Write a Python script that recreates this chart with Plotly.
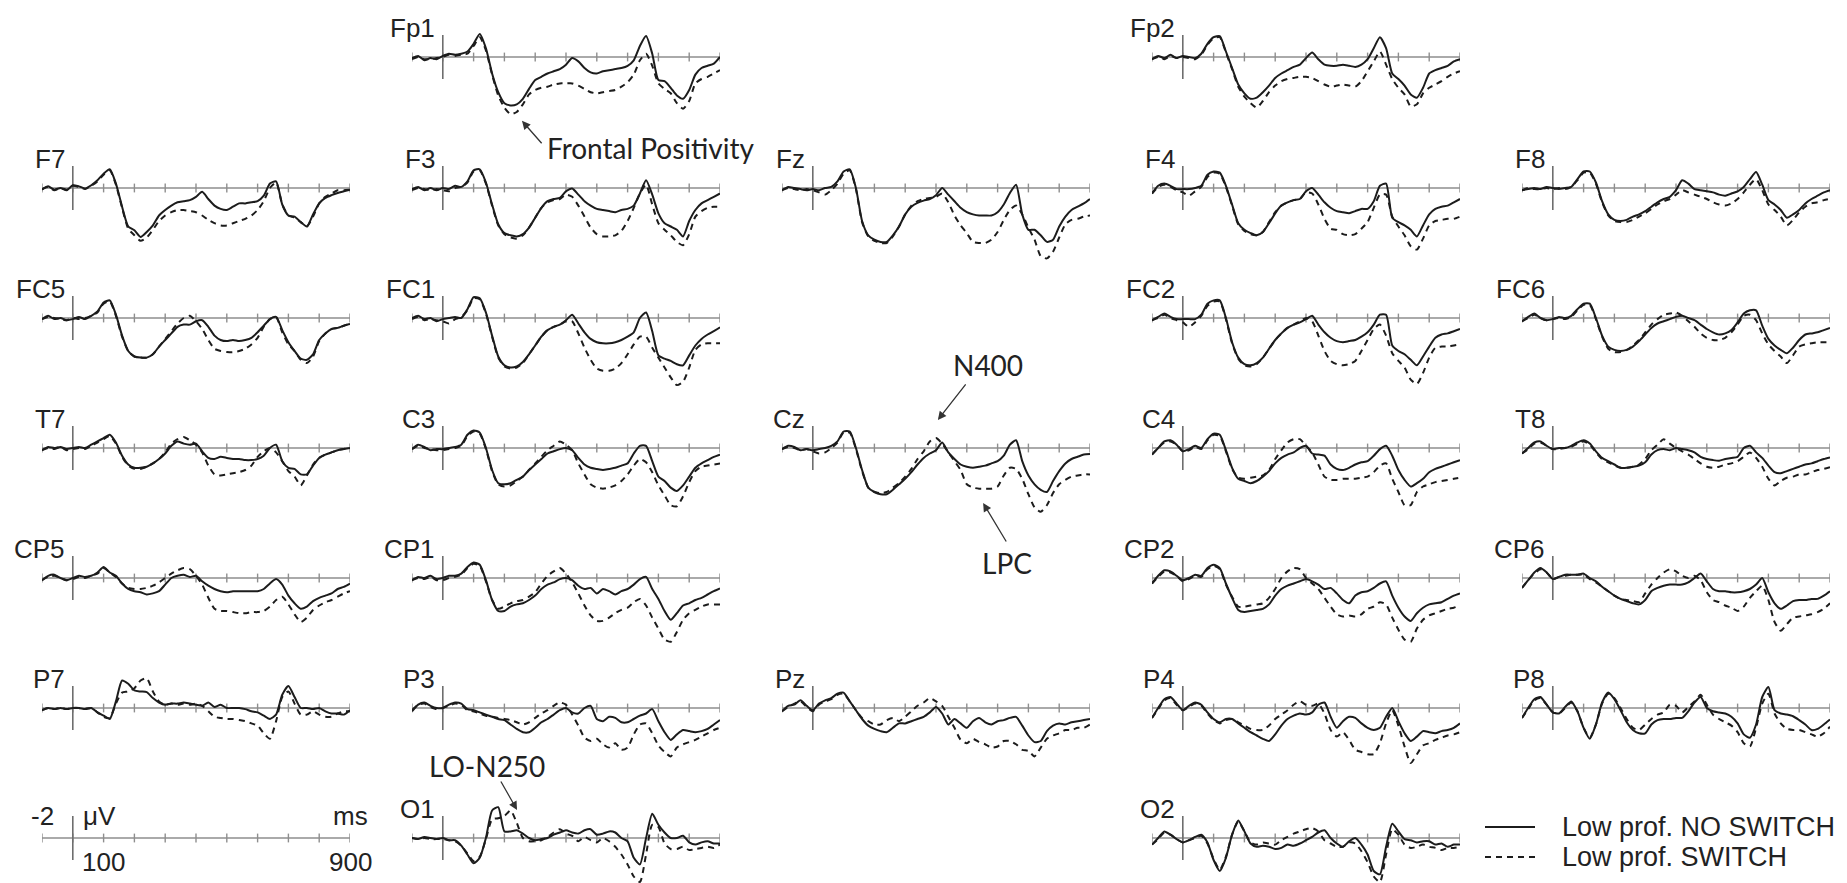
import plotly.graph_objects as go

# ---------------------------------------------------------------------------
# Grand-average ERP waveforms (µV, negative plotted upward), -100 .. 900 ms
# ---------------------------------------------------------------------------
TIMES = list(range(-100, 901, 20))
TICK_TIMES = list(range(-100, 901, 100))

FP1_NO_SWITCH = [0.1, -0.1, 0.3, 0.1, 0.2, -0.1, -0.3, -0.2, -0.3, -0.5,
                 -1.2, -2.1, -0.8, 1.5, 3.2, 4.2, 4.4, 4.3, 3.8, 2.9,
                 2.1, 1.8, 1.5, 1.3, 1.1, 0.7, 0.1, 0.4, 1.0, 1.4,
                 1.5, 1.3, 1.2, 1.1, 1.0, 0.8, 0.3, -1.0, -1.9, -0.3,
                 2.1, 2.2, 2.8, 3.5, 3.8, 3.0, 1.6, 1.0, 0.8, 0.6, 0.0]
FP1_SWITCH = [0.2, 0.0, 0.2, 0.2, 0.1, 0.0, -0.2, -0.1, -0.2, -0.3,
              -1.0, -1.8, -0.6, 1.6, 3.5, 4.6, 5.2, 5.0, 4.3, 3.4,
              3.0, 2.8, 2.7, 2.5, 2.4, 2.4, 2.4, 2.6, 2.9, 3.2,
              3.3, 3.2, 3.1, 3.0, 2.7, 2.3, 1.6, 0.3, -0.3, 0.8,
              2.4, 2.9, 3.3, 4.2, 4.7, 4.0, 2.4, 2.0, 1.8, 1.5, 1.2]

FP2_NO_SWITCH = [0.2, -0.1, 0.1, -0.2, 0.1, -0.1, 0.0, 0.1, -0.3, -1.2,
                 -1.8, -1.9, -0.5, 1.0, 2.5, 3.3, 3.8, 3.7, 3.2, 2.6,
                 1.9, 1.5, 1.2, 0.9, 0.7, 0.1, -0.4, 0.2, 0.7, 0.8,
                 0.8, 0.7, 0.8, 0.9, 0.7, 0.2, -0.8, -1.8, -0.8, 1.5,
                 2.0, 2.6, 3.4, 3.7, 2.8, 1.5, 1.2, 1.0, 0.8, 0.4, 0.2]
FP2_SWITCH = [0.2, 0.0, 0.2, -0.1, 0.1, 0.0, 0.1, 0.2, -0.2, -1.1,
              -1.7, -1.8, -0.4, 1.1, 2.7, 3.6, 4.2, 4.6, 4.0, 3.2,
              2.6, 2.2, 2.0, 1.9, 1.8, 1.8, 1.9, 2.2, 2.5, 2.7,
              2.6, 2.5, 2.6, 2.7, 2.2, 1.3, 0.4, -0.5, 0.7, 2.0,
              2.8, 3.4, 4.5, 4.3, 3.3, 2.8, 2.5, 2.2, 1.8, 1.5, 1.3]

F7_NO_SWITCH = [0.15, -0.15, 0.15, 0.0, 0.2, -0.25, -0.15, 0.05, -0.25, -0.7,
                -1.3, -1.7, -0.4, 1.7, 3.5, 3.85, 4.45, 4.0, 3.4, 2.5,
                2.0, 1.6, 1.3, 1.2, 1.1, 0.8, 0.35, 1.0, 1.6, 1.9,
                2.0, 1.7, 1.4, 1.4, 1.3, 1.2, 0.7, -0.4, -0.6, 1.5,
                2.5, 2.6, 3.1, 3.5, 2.4, 1.4, 0.9, 0.65, 0.45, 0.3, 0.15]
F7_SWITCH = [0.1, -0.1, 0.2, 0.0, 0.15, -0.2, -0.1, 0.1, -0.2, -0.6,
             -1.2, -1.6, -0.3, 1.8, 3.7, 4.3, 4.8, 4.5, 3.8, 3.0,
             2.5, 2.2, 2.0, 2.0, 2.1, 2.2, 2.5, 2.9, 3.2, 3.4,
             3.4, 3.2, 3.0, 2.8, 2.5, 2.0, 1.2, 0.0, -0.5, 1.5,
             2.5, 2.7, 3.1, 3.5, 2.6, 1.4, 0.8, 0.5, 0.2, 0.2, 0.15]

F3_NO_SWITCH = [0.1, -0.1, 0.2, 0.0, 0.2, 0.0, 0.1, -0.2, -0.1, -0.6,
                -1.6, -1.7, -0.5, 1.5, 3.3, 4.1, 4.3, 4.4, 4.2, 3.6,
                2.7, 1.8, 1.2, 1.0, 0.9, 0.3, 0.05, 0.6, 1.2, 1.6,
                1.9, 2.0, 2.1, 2.2, 2.0, 1.9, 1.6, 0.5, -0.7, 0.6,
                2.3, 3.2, 3.5, 3.8, 4.4, 3.0, 2.0, 1.4, 1.1, 0.8, 0.5]
F3_SWITCH = [0.2, 0.0, 0.1, 0.2, 0.1, 0.2, 0.3, 0.0, -0.1, -0.5,
             -1.5, -1.6, -0.4, 1.6, 3.4, 4.2, 4.5, 4.6, 4.3, 3.6,
             2.7, 1.8, 1.3, 1.1, 1.0, 0.6, 0.8, 1.6, 2.6, 3.6,
             4.2, 4.4, 4.4, 4.3, 3.9, 3.0, 1.8, 0.5, -0.3, 1.5,
             3.2, 3.8, 4.3, 4.9, 5.2, 4.2, 2.6, 2.1, 1.8, 1.7, 1.7]

FZ_NO_SWITCH = [0.2, -0.1, 0.0, 0.1, 0.2, 0.1, 0.2, 0.0, -0.1, -0.6,
                -1.5, -1.7, 0.0, 3.0, 4.3, 4.7, 4.9, 4.9, 4.3, 3.5,
                2.4, 1.7, 1.35, 1.15, 1.0, 0.65, 0.0, 0.6, 1.2, 1.8,
                2.2, 2.4, 2.5, 2.5, 2.5, 2.2, 1.5, 0.45, -0.3, 2.4,
                3.8, 3.8, 4.3, 4.9, 4.7, 3.5, 2.6, 2.0, 1.7, 1.4, 1.0]
FZ_SWITCH = [0.2, 0.0, 0.1, 0.2, 0.1, 0.2, 0.4, 0.6, 0.2, -0.4,
             -1.3, -1.6, 0.1, 3.1, 4.4, 4.8, 5.0, 5.0, 4.4, 3.5,
             2.4, 1.6, 1.2, 1.0, 0.9, 0.8, 0.5, 1.3, 2.5, 3.4,
             4.1, 4.9, 5.0, 5.0, 4.7, 4.0, 2.9, 2.0, 1.6, 2.4,
             3.6, 4.7, 6.2, 6.4, 5.8, 4.5, 3.3, 2.9, 2.8, 2.6, 2.5]

F4_NO_SWITCH = [0.5, -0.2, -0.4, -0.2, 0.1, 0.1, 0.1, 0.0, -0.2, -1.2,
                -1.5, -1.4, -0.2, 1.5, 3.2, 3.8, 4.1, 4.3, 4.0, 3.2,
                2.3, 1.6, 1.3, 1.1, 1.0, 0.3, 0.0, 0.6, 1.3, 1.8,
                2.1, 2.2, 2.3, 2.1, 1.9, 1.9, 1.2, -0.2, -0.4, 2.7,
                3.1, 3.4, 3.8, 4.4, 3.4, 2.4, 1.9, 1.7, 1.6, 1.3, 1.0]
F4_SWITCH = [0.5, -0.1, -0.3, -0.1, 0.2, 0.4, 0.7, 0.3, -0.1, -1.0,
             -1.4, -1.3, -0.1, 1.6, 3.3, 3.9, 4.2, 4.3, 4.0, 3.1,
             2.2, 1.6, 1.3, 1.1, 1.0, 0.4, 0.5, 1.5, 2.8, 3.7,
             3.8, 4.2, 4.3, 4.2, 3.7, 3.1, 1.8, 0.6, 0.6, 2.6,
             3.5, 4.3, 5.3, 5.6, 4.6, 3.4, 3.0, 2.9, 2.8, 2.8, 2.6]

F8_NO_SWITCH = [0.2, 0.1, 0.0, 0.1, -0.1, 0.0, 0.1, 0.0, -0.1, -0.8,
                -1.5, -1.5, -0.5, 1.2, 2.4, 2.9, 3.0, 2.9, 2.6, 2.4,
                2.1, 1.7, 1.3, 1.0, 0.8, 0.2, -0.7, -0.4, 0.1, 0.2,
                0.3, 0.4, 0.6, 0.7, 0.5, 0.3, -0.1, -0.8, -1.45, -0.3,
                1.1, 1.5, 2.0, 2.7, 2.4, 2.0, 1.4, 1.0, 0.7, 0.4, 0.2]
F8_SWITCH = [0.2, 0.0, 0.1, 0.1, 0.0, 0.1, 0.0, 0.1, -0.1, -0.7,
             -1.4, -1.4, -0.4, 1.3, 2.5, 3.0, 3.1, 3.1, 2.9, 2.6,
             2.3, 1.9, 1.5, 1.2, 1.0, 0.6, 0.2, 0.4, 0.6, 0.8,
             1.0, 1.3, 1.5, 1.6, 1.4, 1.0, 0.4, -0.3, -0.8, 0.2,
             1.5, 2.0, 2.6, 3.4, 2.9, 2.2, 1.7, 1.4, 1.3, 1.1, 1.0]

FC5_NO_SWITCH = [0.1, -0.2, 0.1, 0.0, 0.2, 0.1, -0.1, 0.1, -0.2, -0.6,
                 -1.4, -1.6, -0.3, 1.6, 3.0, 3.5, 3.6, 3.6, 3.3, 2.6,
                 2.0, 1.4, 0.8, 0.6, 0.6, 0.3, 0.2, 0.8, 1.6, 2.0,
                 2.1, 2.0, 2.1, 2.0, 1.8, 1.3, 0.7, 0.1, -0.1, 1.1,
                 2.2, 3.0, 3.7, 3.8, 3.3, 2.0, 1.4, 1.0, 0.9, 0.7, 0.55]
FC5_SWITCH = [0.1, -0.1, 0.0, 0.1, 0.2, 0.0, 0.1, 0.0, -0.2, -0.5,
              -1.3, -1.5, -0.2, 1.7, 3.0, 3.5, 3.6, 3.6, 3.3, 2.6,
              1.9, 1.2, 0.5, 0.0, -0.2, 0.3, 1.0, 2.0, 2.8, 3.0,
              3.1, 3.1, 3.0, 2.8, 2.4, 1.8, 0.8, 0.1, -0.1, 1.3,
              2.4, 3.0, 3.8, 4.1, 3.5, 2.1, 1.4, 1.0, 0.9, 0.7, 0.55]

FC1_NO_SWITCH = [0.0, -0.2, 0.1, 0.0, 0.3, 0.1, 0.0, -0.1, 0.0, -0.8,
                 -1.9, -1.8, -0.5, 1.6, 3.5, 4.3, 4.5, 4.4, 4.0, 3.3,
                 2.5, 1.7, 1.1, 0.8, 0.6, 0.2, -0.3, 0.5, 1.3, 1.9,
                 2.2, 2.3, 2.3, 2.2, 2.0, 1.7, 1.3, 0.0, -0.5, 1.2,
                 3.4, 3.7, 3.9, 4.2, 4.3, 3.4, 2.5, 1.9, 1.5, 1.2, 0.85]
FC1_SWITCH = [0.1, -0.1, 0.2, 0.1, 0.2, 0.3, 0.5, 0.1, -0.1, -0.7,
              -1.8, -1.7, -0.4, 1.7, 3.6, 4.4, 4.6, 4.5, 4.1, 3.3,
              2.5, 1.7, 1.1, 0.8, 0.6, 0.3, 0.3, 1.4, 2.7, 3.8,
              4.6, 4.8, 4.8, 4.6, 4.1, 3.3, 2.4, 1.7, 1.7, 2.7,
              3.6, 4.5, 5.4, 6.1, 5.8, 4.5, 2.9, 2.4, 2.3, 2.3, 2.3]

FC2_NO_SWITCH = [0.2, -0.1, -0.4, -0.1, 0.1, 0.1, 0.1, 0.1, -0.3, -1.3,
                 -1.6, -1.6, 0.0, 2.2, 3.6, 4.2, 4.3, 4.1, 3.6, 2.8,
                 2.0, 1.4, 0.9, 0.6, 0.4, 0.1, -0.2, 0.6, 1.3, 1.8,
                 2.1, 2.2, 2.1, 2.0, 1.7, 1.3, 0.6, -0.3, -0.3, 2.5,
                 3.0, 3.3, 3.8, 4.3, 3.5, 2.6, 1.8, 1.5, 1.4, 1.2, 1.0]
FC2_SWITCH = [0.2, 0.0, -0.3, 0.0, 0.2, 0.4, 0.8, 0.4, -0.2, -1.1,
              -1.5, -1.5, 0.1, 2.3, 3.7, 4.3, 4.4, 4.2, 3.6, 2.8,
              2.0, 1.4, 0.9, 0.6, 0.3, 0.0, 0.3, 1.6, 3.0, 3.9,
              4.2, 4.3, 4.2, 3.9, 3.0, 2.0, 1.0, 0.6, 1.6, 3.2,
              3.9, 4.5, 5.6, 6.0, 5.0, 3.6, 2.7, 2.6, 2.6, 2.5, 2.4]

FC6_NO_SWITCH = [0.3, -0.1, -0.4, 0.0, 0.2, 0.1, -0.1, 0.0, -0.2, -0.8,
                 -1.3, -1.3, 0.0, 1.6, 2.6, 2.9, 3.0, 2.9, 2.6, 2.1,
                 1.5, 0.9, 0.5, 0.3, 0.1, -0.1, -0.2, 0.0, 0.2, 0.6,
                 1.0, 1.3, 1.5, 1.4, 1.1, 0.4, -0.4, -0.7, -0.7, 0.7,
                 1.9, 2.5, 2.9, 3.2, 2.7, 2.0, 1.5, 1.4, 1.3, 1.1, 0.9]
FC6_SWITCH = [0.3, 0.0, -0.3, 0.0, 0.2, 0.1, 0.0, 0.1, -0.1, -0.7,
              -1.2, -1.2, 0.1, 1.7, 2.8, 3.1, 3.1, 2.9, 2.5, 2.0,
              1.3, 0.6, 0.1, -0.3, -0.4, -0.5, -0.2, 0.3, 0.8, 1.4,
              1.8, 2.0, 2.0, 1.8, 1.3, 0.6, -0.2, -0.3, 0.2, 1.4,
              2.4, 3.0, 3.5, 4.1, 3.4, 2.6, 2.4, 2.3, 2.2, 2.2, 2.2]

T7_NO_SWITCH = [0.2, -0.1, 0.0, -0.1, 0.1, 0.0, -0.1, 0.0, -0.3, -0.6,
                -0.9, -1.2, -0.5, 0.7, 1.5, 1.8, 1.8, 1.7, 1.4, 1.0,
                0.5, -0.2, -0.6, -0.4, -0.3, -0.4, 0.3, 0.9, 1.0, 0.8,
                0.9, 1.0, 1.0, 1.1, 1.1, 1.0, 0.7, 0.0, -0.3, 1.2,
                1.8, 1.9, 2.4, 2.4, 1.6, 0.9, 0.6, 0.4, 0.2, 0.1, 0.0]
T7_SWITCH = [0.2, 0.0, 0.1, -0.1, 0.2, 0.1, 0.0, 0.1, -0.2, -0.5,
             -0.8, -1.1, -0.4, 0.8, 1.6, 1.9, 1.9, 1.7, 1.4, 1.0,
             0.4, -0.4, -0.8, -1.0, -0.7, -0.3, 0.4, 1.6, 2.4, 2.5,
             2.4, 2.3, 2.2, 2.0, 1.6, 0.8, 0.3, 0.0, 0.4, 1.2,
             2.1, 2.6, 3.4, 2.5, 1.5, 0.9, 0.6, 0.4, 0.2, 0.1, 0.0]

C3_NO_SWITCH = [0.1, -0.3, -0.1, 0.2, 0.1, 0.1, 0.0, -0.1, -0.3, -1.2,
                -1.6, -1.4, 0.0, 2.0, 3.2, 3.3, 3.2, 2.9, 2.6, 2.0,
                1.5, 1.0, 0.5, 0.3, 0.1, 0.0, 0.2, 0.9, 1.5, 1.8,
                1.9, 2.0, 1.9, 1.8, 1.6, 1.4, 0.5, -0.2, -0.2, 1.2,
                2.6, 3.0, 3.6, 3.9, 3.4, 2.6, 1.8, 1.4, 1.1, 0.8, 0.6]
C3_SWITCH = [0.1, -0.2, 0.0, 0.1, 0.2, 0.2, 0.1, 0.0, -0.2, -1.1,
             -1.5, -1.3, 0.1, 2.1, 3.3, 3.5, 3.4, 3.0, 2.6, 2.0,
             1.4, 0.8, 0.2, -0.2, -0.6, -0.3, 0.2, 1.4, 2.4, 3.3,
             3.6, 3.7, 3.6, 3.4, 3.0, 2.4, 1.6, 1.0, 1.3, 2.2,
             3.4, 4.3, 5.2, 5.3, 4.4, 3.1, 2.1, 1.7, 1.6, 1.5, 1.4]

CZ_NO_SWITCH = [0.1, -0.2, -0.1, 0.2, 0.1, 0.2, 0.1, 0.0, -0.2, -0.6,
                -1.5, -1.5, 0.0, 2.0, 3.6, 4.0, 4.2, 4.2, 3.8, 3.3,
                2.8, 2.2, 1.5, 0.9, 0.5, 0.2, -0.5, 0.4, 1.0, 1.5,
                1.7, 1.8, 1.7, 1.6, 1.4, 1.2, 0.7, -0.3, -0.7, 1.2,
                2.5, 3.3, 3.8, 4.0, 3.0, 2.1, 1.4, 1.0, 0.8, 0.6, 0.55]
CZ_SWITCH = [0.1, -0.1, 0.0, 0.2, 0.1, 0.3, 0.5, 0.4, 0.0, -0.5,
             -1.4, -1.4, 0.1, 2.1, 3.6, 4.0, 4.1, 4.0, 3.6, 3.2,
             2.6, 1.9, 1.0, 0.3, -0.6, -0.9, -0.4, 0.4, 1.2, 2.0,
             3.3, 3.6, 3.7, 3.7, 3.7, 3.5, 2.5, 1.8, 1.9, 2.8,
             4.2, 5.4, 5.8, 5.2, 4.1, 3.3, 2.9, 2.6, 2.5, 2.4, 2.4]

C4_NO_SWITCH = [0.6, 0.0, -0.6, -0.7, -0.3, 0.3, 0.1, -0.2, 0.0, -0.8,
                -1.3, -1.2, 0.2, 1.8, 2.8, 3.0, 3.2, 3.0, 2.6, 2.1,
                1.4, 0.9, 0.6, 0.4, 0.0, -0.2, 0.5, 0.6, 0.7, 1.5,
                1.9, 2.0, 1.8, 1.5, 1.3, 1.2, 0.7, 0.1, -0.2, 0.7,
                2.0, 2.9, 3.5, 3.2, 2.8, 2.2, 1.9, 1.7, 1.5, 1.3, 1.1]
C4_SWITCH = [0.6, 0.0, -0.5, -0.6, -0.3, 0.3, 0.2, -0.1, 0.1, -0.7,
             -1.2, -1.1, 0.3, 1.9, 2.7, 2.8, 2.7, 2.6, 2.5, 2.0,
             1.0, 0.2, -0.5, -0.8, -0.8, -0.2, 0.4, 1.5, 2.6, 2.9,
             2.9, 2.8, 2.8, 2.8, 2.7, 2.6, 2.2, 1.6, 1.4, 2.8,
             4.0, 5.2, 5.2, 4.0, 3.5, 3.3, 3.1, 3.0, 2.9, 2.8, 2.7]

T8_NO_SWITCH = [0.5, 0.0, -0.5, -0.6, -0.2, 0.1, 0.0, 0.0, -0.2, -0.5,
                -0.7, -0.4, 0.3, 0.9, 1.2, 1.5, 1.8, 1.8, 1.7, 1.6,
                1.3, 0.6, 0.2, 0.1, 0.2, 0.0, 0.1, 0.2, 0.4, 0.8,
                1.0, 1.1, 1.15, 1.0, 0.9, 0.8, 0.0, -0.2, 0.4, 0.9,
                1.6, 2.2, 2.3, 2.1, 1.9, 1.7, 1.5, 1.4, 1.2, 1.0, 0.85]
T8_SWITCH = [0.5, 0.1, -0.4, -0.5, -0.2, 0.1, 0.1, 0.0, -0.1, -0.4,
             -0.6, -0.3, 0.4, 1.0, 1.3, 1.6, 1.8, 1.8, 1.7, 1.5,
             1.0, 0.2, -0.3, -0.8, -0.4, 0.0, 0.3, 0.6, 1.0, 1.4,
             1.7, 1.8, 1.7, 1.5, 1.4, 1.2, 0.8, 0.4, 0.9, 1.7,
             2.8, 3.4, 3.0, 2.7, 2.6, 2.4, 2.4, 2.2, 2.0, 1.9, 1.75]

CP5_NO_SWITCH = [0.2, -0.2, -0.3, 0.0, 0.2, 0.0, -0.2, -0.1, -0.2, -0.5,
                 -1.0, -0.5, -0.2, 0.5, 1.0, 1.2, 1.3, 1.5, 1.4, 1.2,
                 0.6, 0.0, -0.2, -0.3, -0.1, -0.2, 0.3, 0.7, 1.0, 1.2,
                 1.3, 1.2, 1.2, 1.2, 1.2, 1.2, 1.0, 0.5, 0.1, 0.6,
                 1.6, 2.3, 2.8, 2.6, 2.1, 1.8, 1.6, 1.4, 1.0, 0.8, 0.5]
CP5_SWITCH = [0.2, -0.1, -0.2, 0.0, 0.2, 0.1, -0.1, 0.0, -0.2, -0.4,
              -0.9, -0.5, -0.1, 0.5, 0.9, 1.0, 1.0, 0.9, 0.7, 0.4,
              0.0, -0.4, -0.7, -0.9, -0.8, -0.2, 0.6, 1.8, 2.8, 3.0,
              3.0, 3.1, 3.2, 3.2, 3.1, 3.1, 3.0, 2.6, 2.0, 1.7,
              2.4, 3.3, 4.0, 3.6, 2.9, 2.5, 2.2, 2.0, 1.7, 1.4, 1.2]

CP1_NO_SWITCH = [0.2, -0.1, 0.0, -0.2, 0.1, 0.0, -0.2, -0.2, -0.4, -1.0,
                 -1.4, -1.2, 0.2, 2.0, 3.0, 3.0, 2.6, 2.4, 2.3, 2.0,
                 1.6, 1.0, 0.6, 0.4, 0.1, 0.0, 0.2, 0.7, 1.0, 0.9,
                 1.4, 1.0, 1.2, 1.5, 1.2, 1.0, 0.6, 0.1, -0.1, 1.0,
                 1.9, 3.0, 3.8, 3.2, 2.5, 2.3, 2.0, 1.8, 1.5, 1.2, 0.95]
CP1_SWITCH = [0.2, 0.0, 0.1, -0.1, 0.2, 0.2, 0.0, -0.1, -0.3, -0.9,
              -1.3, -1.1, 0.3, 2.0, 2.8, 2.6, 2.3, 2.1, 2.0, 1.7,
              1.3, 0.5, -0.2, -0.6, -0.9, -0.4, 0.4, 1.4, 2.5, 3.4,
              3.9, 3.9, 3.6, 3.2, 2.9, 2.7, 2.2, 1.9, 2.5, 3.6,
              4.6, 5.6, 5.8, 4.9, 3.8, 3.2, 2.9, 2.6, 2.4, 2.4, 2.4]

CP2_NO_SWITCH = [0.5, -0.2, -0.7, -0.6, -0.2, 0.2, 0.0, -0.3, -0.2, -0.9,
                 -1.2, -0.9, 0.5, 1.8, 2.9, 3.1, 3.0, 2.9, 2.8, 2.4,
                 1.6, 1.0, 0.7, 0.5, 0.3, 0.1, 0.3, 0.6, 1.0, 0.9,
                 1.4, 2.0, 2.3, 1.6, 1.3, 1.2, 0.9, 0.5, 0.3, 1.6,
                 2.7, 3.5, 3.9, 3.2, 2.7, 2.4, 2.3, 2.2, 1.9, 1.6, 1.4]
CP2_SWITCH = [0.5, -0.1, -0.6, -0.5, -0.2, 0.3, 0.1, -0.2, -0.1, -0.8,
              -1.1, -0.8, 0.6, 1.7, 2.6, 2.6, 2.5, 2.4, 2.3, 1.8,
              1.0, 0.0, -0.6, -0.9, -0.8, 0.0, 0.5, 1.0, 1.8, 2.6,
              3.3, 3.5, 3.4, 3.5, 3.3, 2.8, 2.6, 2.2, 2.4, 3.6,
              4.7, 5.6, 5.8, 4.6, 3.8, 3.4, 3.2, 3.0, 2.8, 2.7, 2.5]

CP6_NO_SWITCH = [0.9, 0.2, -0.5, -0.9, -0.5, 0.1, -0.1, -0.3, -0.3, -0.3,
                 -0.4, 0.0, 0.3, 0.8, 1.2, 1.6, 1.9, 2.1, 2.3, 2.4,
                 2.0, 1.2, 0.9, 0.7, 0.6, 0.6, 0.6, 0.4, 0.0, -0.4,
                 0.3, 1.0, 1.2, 1.2, 1.3, 1.3, 1.2, 1.0, 0.6, 0.0,
                 1.3, 2.3, 2.8, 2.5, 2.1, 2.0, 2.0, 1.9, 1.9, 1.6, 1.2]
CP6_SWITCH = [0.9, 0.2, -0.4, -0.8, -0.5, 0.1, -0.1, -0.2, -0.3, -0.3,
              -0.3, 0.1, 0.4, 0.8, 1.2, 1.6, 1.9, 2.0, 2.1, 2.2,
              1.4, 0.6, 0.0, -0.5, -0.8, -0.6, -0.2, 0.0, -0.2, 0.2,
              1.3, 2.0, 2.2, 2.5, 2.7, 3.0, 2.6, 1.8, 1.2, 0.7,
              2.0, 4.0, 4.8, 4.2, 3.6, 3.5, 3.4, 3.3, 3.1, 2.8, 2.3]

P7_NO_SWITCH = [0.2, 0.0, 0.1, 0.0, 0.1, 0.0, 0.0, 0.1, 0.0, 0.4,
                0.7, 1.0, -0.6, -2.5, -2.2, -1.6, -1.5, -1.45, -0.9, -0.5,
                -0.3, -0.4, -0.4, -0.5, -0.4, -0.3, -0.2, -0.5, -0.1, -0.3,
                0.0, 0.0, 0.0, 0.1, 0.3, 0.4, 0.7, 1.0, 0.6, -1.2,
                -2.0, -1.0, 0.0, 0.0, 0.1, 0.0, 0.3, 0.5, 0.5, 0.6, 0.2]
P7_SWITCH = [0.2, 0.0, 0.1, 0.0, 0.1, 0.0, 0.0, 0.1, 0.0, 0.4,
             0.8, 0.9, -0.4, -1.4, -1.5, -1.8, -2.5, -2.7, -1.5, -0.6,
             -0.3, -0.4, -0.3, -0.4, -0.3, -0.4, -0.2, 0.3, 0.8, 0.9,
             1.0, 1.0, 1.1, 1.2, 1.4, 1.6, 2.3, 2.8, 1.2, -1.0,
             -1.5, -0.4, 0.6, 0.6, 0.3, 0.6, 0.8, 0.8, 0.5, 0.3, 0.3]

P3_NO_SWITCH = [0.3, -0.3, -0.5, -0.2, 0.0, 0.0, -0.3, -0.5, -0.4, 0.1,
                0.2, 0.4, 0.6, 0.8, 1.0, 1.1, 1.5, 1.9, 2.2, 2.2,
                1.8, 1.3, 1.0, 0.6, 0.2, 0.0, 0.4, 0.5, 0.0, -0.2,
                1.0, 1.2, 0.8, 0.9, 1.3, 1.3, 1.0, 0.7, 0.5, 0.1,
                1.2, 2.2, 2.9, 2.4, 2.0, 2.1, 2.2, 2.1, 1.9, 1.5, 1.1]
P3_SWITCH = [0.2, -0.3, -0.4, -0.1, 0.1, 0.0, -0.2, -0.4, -0.3, 0.2,
             0.3, 0.5, 0.7, 0.8, 0.9, 1.0, 1.1, 1.3, 1.5, 1.3,
             0.9, 0.5, 0.2, -0.2, -0.5, -0.3, 0.6, 1.6, 2.7, 3.0,
             2.8, 3.3, 3.6, 3.2, 3.8, 3.6, 2.4, 1.5, 1.4, 2.3,
             3.4, 4.0, 4.4, 3.6, 3.3, 3.1, 2.9, 2.6, 2.3, 2.0, 1.8]

PZ_NO_SWITCH = [0.3, -0.2, -0.3, -0.7, -0.2, 0.2, -0.4, -0.7, -0.9, -1.3,
                -1.4, -0.6, 0.2, 1.0, 1.6, 1.9, 2.1, 2.2, 1.8, 1.4,
                1.4, 1.2, 1.0, 0.8, 0.4, -0.1, 0.5, 1.5, 1.0, 1.4,
                1.8, 1.2, 0.9, 1.3, 1.5, 1.2, 1.1, 0.9, 0.8, 1.6,
                2.5, 3.1, 3.0, 2.1, 1.6, 1.4, 1.5, 1.3, 1.2, 1.1, 1.0]
PZ_SWITCH = [0.3, -0.1, -0.4, -0.6, -0.1, 0.3, -0.3, -0.6, -0.8, -1.2,
             -1.3, -0.6, 0.2, 0.9, 1.2, 1.5, 1.5, 1.1, 0.9, 1.2,
             0.8, 0.3, -0.2, -0.5, -0.9, -0.6, -0.2, 0.8, 1.8, 2.9,
             3.2, 2.8, 3.1, 3.3, 3.6, 3.5, 3.0, 3.0, 3.3, 3.8,
             3.9, 4.4, 3.6, 2.8, 2.5, 2.3, 2.0, 2.0, 1.8, 1.8, 1.5]

P4_NO_SWITCH = [0.9, 0.0, -0.8, -1.0, -0.4, 0.2, -0.2, -0.5, -0.3, 0.4,
                1.0, 1.3, 1.0, 1.0, 1.4, 1.8, 2.2, 2.5, 2.8, 3.0,
                2.4, 1.6, 1.0, 0.7, 0.5, 0.6, 0.4, -0.3, -0.5, 0.8,
                1.8, 1.2, 0.8, 0.9, 1.4, 1.8, 2.0, 1.8, 0.8, 0.0,
                1.2, 2.3, 3.0, 2.6, 2.1, 2.2, 2.3, 2.1, 2.0, 1.8, 1.4]
P4_SWITCH = [0.9, 0.1, -0.7, -0.9, -0.3, 0.2, -0.1, -0.4, -0.2, 0.5,
             1.1, 1.4, 1.1, 1.0, 1.3, 1.6, 1.9, 2.0, 2.0, 1.6,
             1.0, 0.6, 0.2, -0.3, -0.6, -0.3, -0.2, -0.4, 0.5, 2.0,
             2.6, 2.2, 2.9, 3.8, 4.0, 4.2, 4.2, 3.2, 1.4, 0.2,
             1.6, 3.5, 5.0, 4.2, 3.4, 3.2, 2.9, 2.7, 2.5, 2.4, 2.2]

P8_NO_SWITCH = [0.9, 0.0, -0.8, -1.0, -0.3, 0.4, 0.5, -0.1, -0.6, 0.3,
                1.8, 2.8, 1.5, -0.5, -1.4, -0.8, 0.2, 1.3, 2.0, 2.3,
                2.3, 1.5, 1.1, 1.0, 1.0, 0.9, 0.9, 0.3, -0.5, -1.0,
                0.0, 0.3, 0.4, 0.5, 0.8, 1.4, 2.4, 2.7, 1.5, -1.0,
                -1.9, 0.2, 0.5, 0.6, 0.75, 1.1, 1.5, 2.0, 1.9, 1.5, 1.05]
P8_SWITCH = [0.9, 0.1, -0.7, -0.9, -0.3, 0.4, 0.5, 0.0, -0.5, 0.3,
             1.8, 2.7, 1.5, -0.4, -1.3, -0.9, 0.0, 1.0, 1.8, 2.0,
             1.5, 1.0, 0.6, 0.4, -0.3, -0.2, 0.4, -0.1, -0.6, -1.2,
             -0.3, 0.6, 1.0, 1.3, 1.6, 2.2, 3.2, 3.5, 1.8, -0.4,
             -1.3, 0.5, 1.4, 1.9, 2.0, 2.0, 2.2, 2.4, 2.6, 2.3, 1.7]

O1_NO_SWITCH = [0.0, 0.1, -0.1, 0.0, 0.1, 0.0, 0.2, 0.2, 0.7, 1.5,
                2.3, 1.8, 0.0, -2.5, -2.8, -0.6, -0.6, -0.7, -0.4, 0.0,
                0.2, 0.1, 0.0, -0.3, -0.5, -0.7, -0.5, -0.4, -0.7, -0.8,
                -0.3, -0.4, -0.6, -0.5, 0.0, 0.3, 1.8, 2.4, 0.0, -2.2,
                -1.2, -0.5, 0.0, 0.0, -0.2, 0.4, 0.6, 0.4, 0.3, 0.5, 0.5]
O1_SWITCH = [0.0, 0.1, 0.0, 0.1, 0.1, 0.1, 0.2, 0.3, 0.7, 1.4,
             2.1, 1.7, 0.1, -1.7, -1.8, -2.0, -2.5, -1.4, 0.0, 0.3,
             0.3, 0.2, -0.1, -0.5, -0.8, -0.4, -0.2, 0.3, -0.1, 0.2,
             0.4, 0.0, 0.3, 0.8, 1.5, 2.4, 3.5, 4.0, 1.5, -1.2,
             -1.0, 0.5, 1.0, 1.0, 0.8, 1.1, 1.0, 0.9, 0.8, 0.9, 0.6]

O2_NO_SWITCH = [0.6, 0.0, -0.6, -0.3, 0.1, 0.4, 0.2, -0.1, -0.3, 0.4,
                2.0, 3.0, 1.8, -0.3, -1.6, -0.6, 0.5, 0.8, 0.7, 0.8,
                1.0, 0.9, 0.6, 0.7, 0.5, 0.2, -0.1, -0.5, -0.7, 0.0,
                0.5, 0.8, 0.3, 0.0, 0.6, 1.5, 3.0, 3.3, 0.8, -1.3,
                -0.6, 0.1, 0.2, 0.4, 0.3, 0.3, 0.6, 0.5, 0.8, 0.6, 0.6]
O2_SWITCH = [0.6, 0.1, -0.5, -0.3, 0.1, 0.4, 0.2, 0.0, -0.2, 0.5,
             1.9, 2.9, 1.7, -0.3, -1.5, -0.6, 0.4, 0.6, 0.4, 0.5,
             0.6, 0.2, -0.1, -0.4, -0.6, -0.8, -0.9, -0.6, 0.2, 0.5,
             0.8, 0.8, 0.4, 0.5, 1.2, 2.2, 3.5, 4.0, 1.5, -0.8,
             -0.3, 0.6, 0.9, 0.8, 0.6, 0.8, 0.9, 1.1, 0.9, 0.9, 0.8]

# electrode name, grid row, grid column, NO SWITCH trace, SWITCH trace
SITES = [
    ("Fp1", 0, 1, FP1_NO_SWITCH, FP1_SWITCH),
    ("Fp2", 0, 3, FP2_NO_SWITCH, FP2_SWITCH),
    ("F7", 1, 0, F7_NO_SWITCH, F7_SWITCH),
    ("F3", 1, 1, F3_NO_SWITCH, F3_SWITCH),
    ("Fz", 1, 2, FZ_NO_SWITCH, FZ_SWITCH),
    ("F4", 1, 3, F4_NO_SWITCH, F4_SWITCH),
    ("F8", 1, 4, F8_NO_SWITCH, F8_SWITCH),
    ("FC5", 2, 0, FC5_NO_SWITCH, FC5_SWITCH),
    ("FC1", 2, 1, FC1_NO_SWITCH, FC1_SWITCH),
    ("FC2", 2, 3, FC2_NO_SWITCH, FC2_SWITCH),
    ("FC6", 2, 4, FC6_NO_SWITCH, FC6_SWITCH),
    ("T7", 3, 0, T7_NO_SWITCH, T7_SWITCH),
    ("C3", 3, 1, C3_NO_SWITCH, C3_SWITCH),
    ("Cz", 3, 2, CZ_NO_SWITCH, CZ_SWITCH),
    ("C4", 3, 3, C4_NO_SWITCH, C4_SWITCH),
    ("T8", 3, 4, T8_NO_SWITCH, T8_SWITCH),
    ("CP5", 4, 0, CP5_NO_SWITCH, CP5_SWITCH),
    ("CP1", 4, 1, CP1_NO_SWITCH, CP1_SWITCH),
    ("CP2", 4, 3, CP2_NO_SWITCH, CP2_SWITCH),
    ("CP6", 4, 4, CP6_NO_SWITCH, CP6_SWITCH),
    ("P7", 5, 0, P7_NO_SWITCH, P7_SWITCH),
    ("P3", 5, 1, P3_NO_SWITCH, P3_SWITCH),
    ("Pz", 5, 2, PZ_NO_SWITCH, PZ_SWITCH),
    ("P4", 5, 3, P4_NO_SWITCH, P4_SWITCH),
    ("P8", 5, 4, P8_NO_SWITCH, P8_SWITCH),
    ("O1", 6, 1, O1_NO_SWITCH, O1_SWITCH),
    ("O2", 6, 3, O2_NO_SWITCH, O2_SWITCH),
]
SERIES_NAMES = ["Low prof. NO SWITCH", "Low prof. SWITCH"]
SCALE_UV = 2          # half-length of the vertical bar at 0 ms, in µV

# ---------------------------------------------------------------------------
# Page geometry (pixels)
# ---------------------------------------------------------------------------
W, H = 1847, 883
COL_LEFT = [42, 412, 782, 1152, 1522]      # x of -100 ms in each column
ROW_BASE = [57, 188, 318, 448, 578, 708, 838]  # y of the 0 µV baseline
PANEL_W = 308                              # -100 .. 900 ms
PX_PER_UV = 11.0
ABOVE_PX, BELOW_PX = 50, 80
T0, T1 = -100, 900

WAVE = "#1c1c1c"
AXIS_GRAY = "#8e8e8e"
BAR_GRAY = "#6e6e6e"
LABEL_FONT = "Liberation Sans, Arial, Helvetica, sans-serif"
NOTE_FONT = "Lato, Carlito, Calibri, sans-serif"

fig = go.Figure()
layout_axes = {}
shapes = []
annotations = []


def px_x(px):
    return px / W


def px_y(px):
    return (H - px) / H


def make_panel(idx, row, col):
    xa = "xaxis" if idx == 1 else f"xaxis{idx}"
    ya = "yaxis" if idx == 1 else f"yaxis{idx}"
    xr = "x" if idx == 1 else f"x{idx}"
    yr = "y" if idx == 1 else f"y{idx}"
    base = ROW_BASE[row]
    left = COL_LEFT[col]
    top = base - ABOVE_PX
    bottom = min(base + BELOW_PX, H)
    layout_axes[xa] = dict(domain=[px_x(left), px_x(left + PANEL_W)], range=[T0, T1],
                           visible=False, fixedrange=True, anchor=yr)
    layout_axes[ya] = dict(domain=[px_y(bottom), px_y(top)],
                           range=[(bottom - base) / PX_PER_UV, -(base - top) / PX_PER_UV],
                           visible=False, fixedrange=True, anchor=xr)
    # time axis with 100 ms ticks, and the voltage bar at stimulus onset
    shapes.append(dict(type="line", xref=xr, yref=yr, x0=T0, x1=T1, y0=0, y1=0,
                       line=dict(color=AXIS_GRAY, width=1.6), layer="below"))
    for t in TICK_TIMES:
        shapes.append(dict(type="line", xref=xr, yref=yr, x0=t, x1=t, y0=-0.4, y1=0.4,
                           line=dict(color=AXIS_GRAY, width=1.4), layer="below"))
    shapes.append(dict(type="line", xref=xr, yref=yr, x0=0, x1=0, y0=-SCALE_UV, y1=SCALE_UV,
                       line=dict(color=BAR_GRAY, width=1.6), layer="below"))
    return xr, yr


idx = 0
panel_refs = {}
for name, row, col, no_sw, sw in SITES:
    idx += 1
    xr, yr = make_panel(idx, row, col)
    panel_refs[name] = (xr, yr)
    fig.add_trace(go.Scatter(x=TIMES, y=no_sw, mode="lines", name=SERIES_NAMES[0],
                             line=dict(color=WAVE, width=2.0, shape="spline", smoothing=0.6),
                             xaxis=xr, yaxis=yr, showlegend=False, hoverinfo="skip"))
    fig.add_trace(go.Scatter(x=TIMES, y=sw, mode="lines", name=SERIES_NAMES[1],
                             line=dict(color=WAVE, width=2.0, dash="6px,5px",
                                       shape="spline", smoothing=0.6),
                             xaxis=xr, yaxis=yr, showlegend=False, hoverinfo="skip"))
    zero_px = COL_LEFT[col] + (0 - T0) * PANEL_W / (T1 - T0)
    annotations.append(dict(text=name, xref="paper", yref="paper",
                            x=px_x(zero_px - 6), y=px_y(ROW_BASE[row] - 29),
                            xanchor="right", yanchor="middle", showarrow=False,
                            font=dict(family=LABEL_FONT, size=26, color="#222222")))

# scale panel (bottom-left)
idx += 1
sx, sy = make_panel(idx, 6, 0)
scale_font = dict(family=LABEL_FONT, size=26, color="#222222")
annotations += [
    dict(text=f"-{SCALE_UV}", xref=sx, yref=sy, x=T0, y=-SCALE_UV, showarrow=False,
         xanchor="center", yanchor="middle", font=scale_font),
    dict(text="\u03bcV", xref=sx, yref=sy, x=0, y=-SCALE_UV, showarrow=False,
         xanchor="left", yanchor="middle", xshift=8, font=scale_font),
    dict(text="ms", xref=sx, yref=sy, x=T1, y=-SCALE_UV, showarrow=False,
         xanchor="center", yanchor="middle", font=scale_font),
    dict(text="100", xref=sx, yref=sy, x=100, y=2.2, showarrow=False,
         xanchor="center", yanchor="middle", font=scale_font),
    dict(text="900", xref=sx, yref=sy, x=T1, y=2.2, showarrow=False,
         xanchor="center", yanchor="middle", font=scale_font),
]

# component call-outs
note_font = dict(family=NOTE_FONT, size=28, color="#222222")
arrow_style = dict(showarrow=True, arrowhead=2, arrowsize=1.3, arrowwidth=1.3,
                   arrowcolor="#333333", text="", axref="pixel", ayref="pixel")
callouts = [
    # text, panel, head time, head µV, tail offset (px), text centre (px)
    ("Frontal Positivity", "Fp1", 257, 5.8, (21, 24), (651, 148)),
    ("N400", "Cz", 406, -2.55, (29, -37), (988, 365)),
    ("LPC", "Cz", 553, 5.0, (24, 40), (1007, 563)),
    ("LO-N250", "O1", 241, -2.55, (-17, -30), (487, 766)),
]
for text, site, t_head, v_head, (ax, ay), (tx, ty) in callouts:
    xr, yr = panel_refs[site]
    annotations.append(dict(xref=xr, yref=yr, x=t_head, y=v_head, ax=ax, ay=ay, **arrow_style))
    annotations.append(dict(text=text, xref="paper", yref="paper", x=px_x(tx), y=px_y(ty),
                            xanchor="center", yanchor="middle", showarrow=False, font=note_font))

# legend
legend_rows = [(827, "solid"), (857, "6px,5px")]
for (ly, dash), label in zip(legend_rows, SERIES_NAMES):
    shapes.append(dict(type="line", xref="paper", yref="paper",
                       x0=px_x(1485), x1=px_x(1535), y0=px_y(ly), y1=px_y(ly),
                       line=dict(color=WAVE, width=2.0, dash=dash)))
    annotations.append(dict(text=label, xref="paper", yref="paper", x=px_x(1560), y=px_y(ly),
                            xanchor="left", yanchor="middle", showarrow=False,
                            font=dict(family=LABEL_FONT, size=27, color="#222222")))

fig.update_layout(
    width=W, height=H,
    margin=dict(l=0, r=0, t=0, b=0, pad=0),
    paper_bgcolor="white",
    plot_bgcolor="rgba(0,0,0,0)",
    showlegend=False,
    shapes=shapes,
    annotations=annotations,
    **layout_axes,
)

fig.write_html("out.html", config={"displayModeBar": False})
